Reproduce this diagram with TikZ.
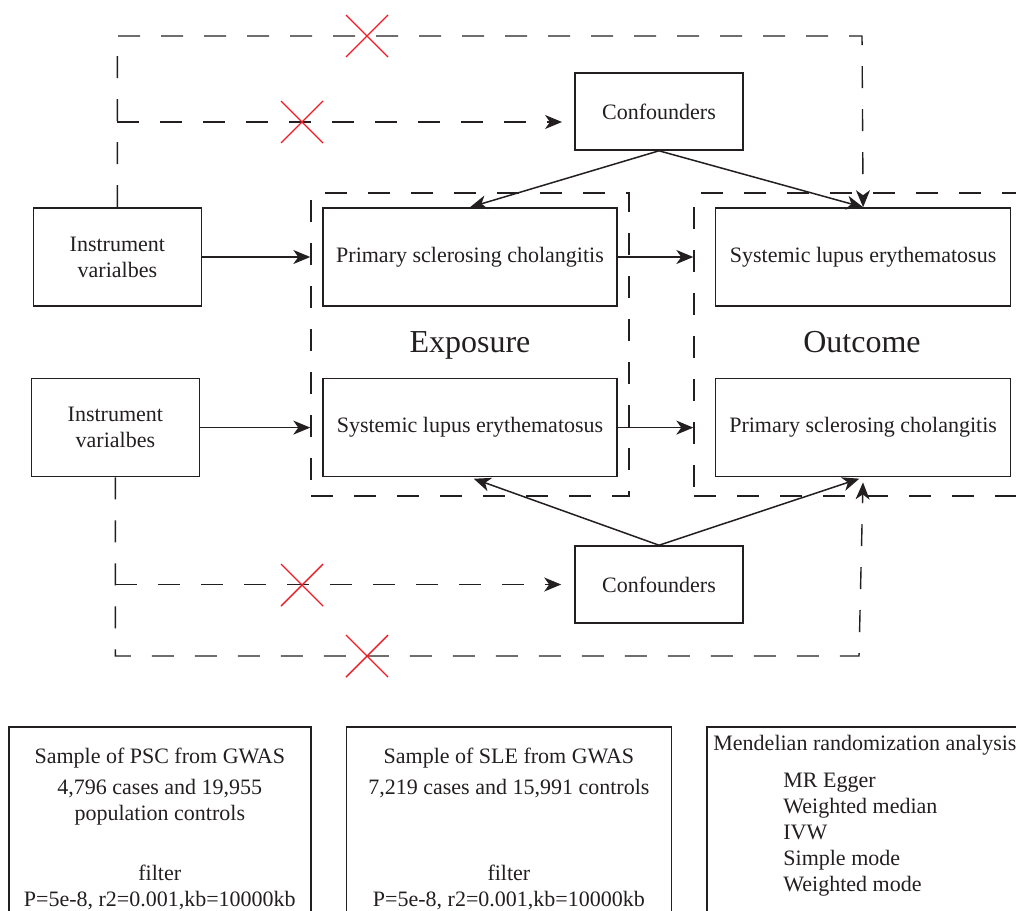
\documentclass[tikz,border=0pt]{standalone}
\usepackage{fontspec}
\setmainfont{Liberation Serif}
\usetikzlibrary{arrows.meta,positioning}
\definecolor{ink}{HTML}{231F20}
\definecolor{crossred}{HTML}{ED1C24}

\begin{document}
\begin{tikzpicture}[x=1pt, y=-1pt,
    node distance=71pt,
    box/.style={draw=ink, line width=1.6pt, align=center, text=ink,
                font=\fontsize{22}{26}\selectfont, inner sep=0pt},
    txt/.style={align=center, text=ink, font=\fontsize{22}{26}\selectfont, inner sep=0pt},
    group/.style={draw=ink, line width=1.4pt, dash pattern=on 22pt off 21pt,
                  text=ink, font=\fontsize{32}{38}\selectfont, inner sep=0pt,
                  text height=22pt, text depth=6pt},
    dashline/.style={draw=ink, line width=1.4pt, dash pattern=on 22pt off 21pt},
    arr/.style={draw=ink, line width=1.5pt},
    cross/.style={draw=crossred, line width=1.4pt},
    >={Stealth[length=17pt, width=14pt, inset=5pt]}]
  \useasboundingbox (0,0) rectangle (1016,910);
  \clip (0,0) rectangle (1016,910);
  \node[group, minimum width=318pt, minimum height=303pt] (expo) at (470,344.5) {Exposure};
  \node[group, minimum width=336pt, minimum height=303pt] (outc) at (862,344.5) {Outcome};
  \node[box, minimum width=294pt, minimum height=98pt] (pscexp) at (470,257) {Primary sclerosing cholangitis};
  \node[box, minimum width=294pt, minimum height=98pt, below=of pscexp] (sleexp) {Systemic lupus erythematosus};
  \node[box, minimum width=295pt, minimum height=98pt, right=97pt of pscexp] (sleout) {Systemic lupus erythematosus};
  \node[box, minimum width=295pt, minimum height=98pt, below=of sleout] (pscout) {Primary sclerosing cholangitis};
  \node[box, minimum width=168pt, minimum height=98pt, left=120pt of pscexp] (iv1) {Instrument\\varialbes};
  \node[box, minimum width=168pt, minimum height=98pt, left=122pt of sleexp] (iv2) {Instrument\\varialbes};
  \node[box, minimum width=168pt, minimum height=77pt] (conf1) at (659,111.5) {Confounders};
  \node[box, minimum width=168pt, minimum height=77pt] (conf2) at (659,584.5) {Confounders};
  \node[box, minimum width=302pt, minimum height=220pt, anchor=north west] (pscgwas) at (8,726) {};
  \node[box, minimum width=325pt, minimum height=220pt, right=34pt of pscgwas] (slegwas) {};
  \node[box, minimum width=330pt, minimum height=220pt, right=34pt of slegwas] (mrbox) {};
  \node[txt, below=22pt of pscgwas.north] (psctxt) {Sample of PSC from GWAS\\[5pt]4,796 cases and 19,955\\population controls\\[34pt]filter\\P=5e-8, r2=0.001,kb=10000kb};
  \node[txt, below=22pt of slegwas.north] (sletxt) {Sample of SLE from GWAS\\[5pt]7,219 cases and 15,991 controls\\[60pt]filter\\P=5e-8, r2=0.001,kb=10000kb};
  \node[txt, anchor=north west] (mrhead) at ([xshift=7pt, yshift=-9pt]mrbox.north west) {Mendelian randomization analysis};
  \node[txt, align=left, anchor=north west] (mrlist) at ([xshift=77pt, yshift=-47pt]mrbox.north west) {MR Egger\\Weighted median\\IVW\\Simple mode\\Weighted mode};
  \coordinate (topR) at (862,36);
  \coordinate (botR) at (859,656);
  \coordinate (tipA) at (562,122);
  \draw[dashline, ->] (iv1.north) |- (topR) -- (sleout.north);
  \draw[dashline, ->] (iv1.north |- tipA) -- (tipA);
  \draw[dashline, ->, shorten >=5pt] (iv2.south) |- (botR) -- (pscout.south);
  \draw[dashline, ->, shorten >=13pt] (iv2.south |- conf2.west) -- (conf2.west);
  \draw[arr, ->] (iv1.east) -- (iv1.east -| expo.west);
  \draw[arr, ->] (iv2.east) -- (iv2.east -| expo.west);
  \draw[arr, ->] (pscexp.east) -- (pscexp.east -| outc.west);
  \draw[arr, ->] (sleexp.east) -- (sleexp.east -| outc.west);
  \draw[arr, ->] (conf1.south) -- (pscexp.north);
  \draw[arr, ->] (conf1.south) -- (sleout.north);
  \draw[arr, ->, shorten >=4pt] (conf2.north) -- (sleexp.south);
  \draw[arr, ->, shorten >=4pt] (conf2.north) -- (pscout.south);
  \foreach \x/\y in {367/36, 302/122, 302/585, 367/656}
    \draw[cross] (\x-21,\y-21) -- (\x+21,\y+21) (\x-21,\y+21) -- (\x+21,\y-21);
\end{tikzpicture}
\end{document}
